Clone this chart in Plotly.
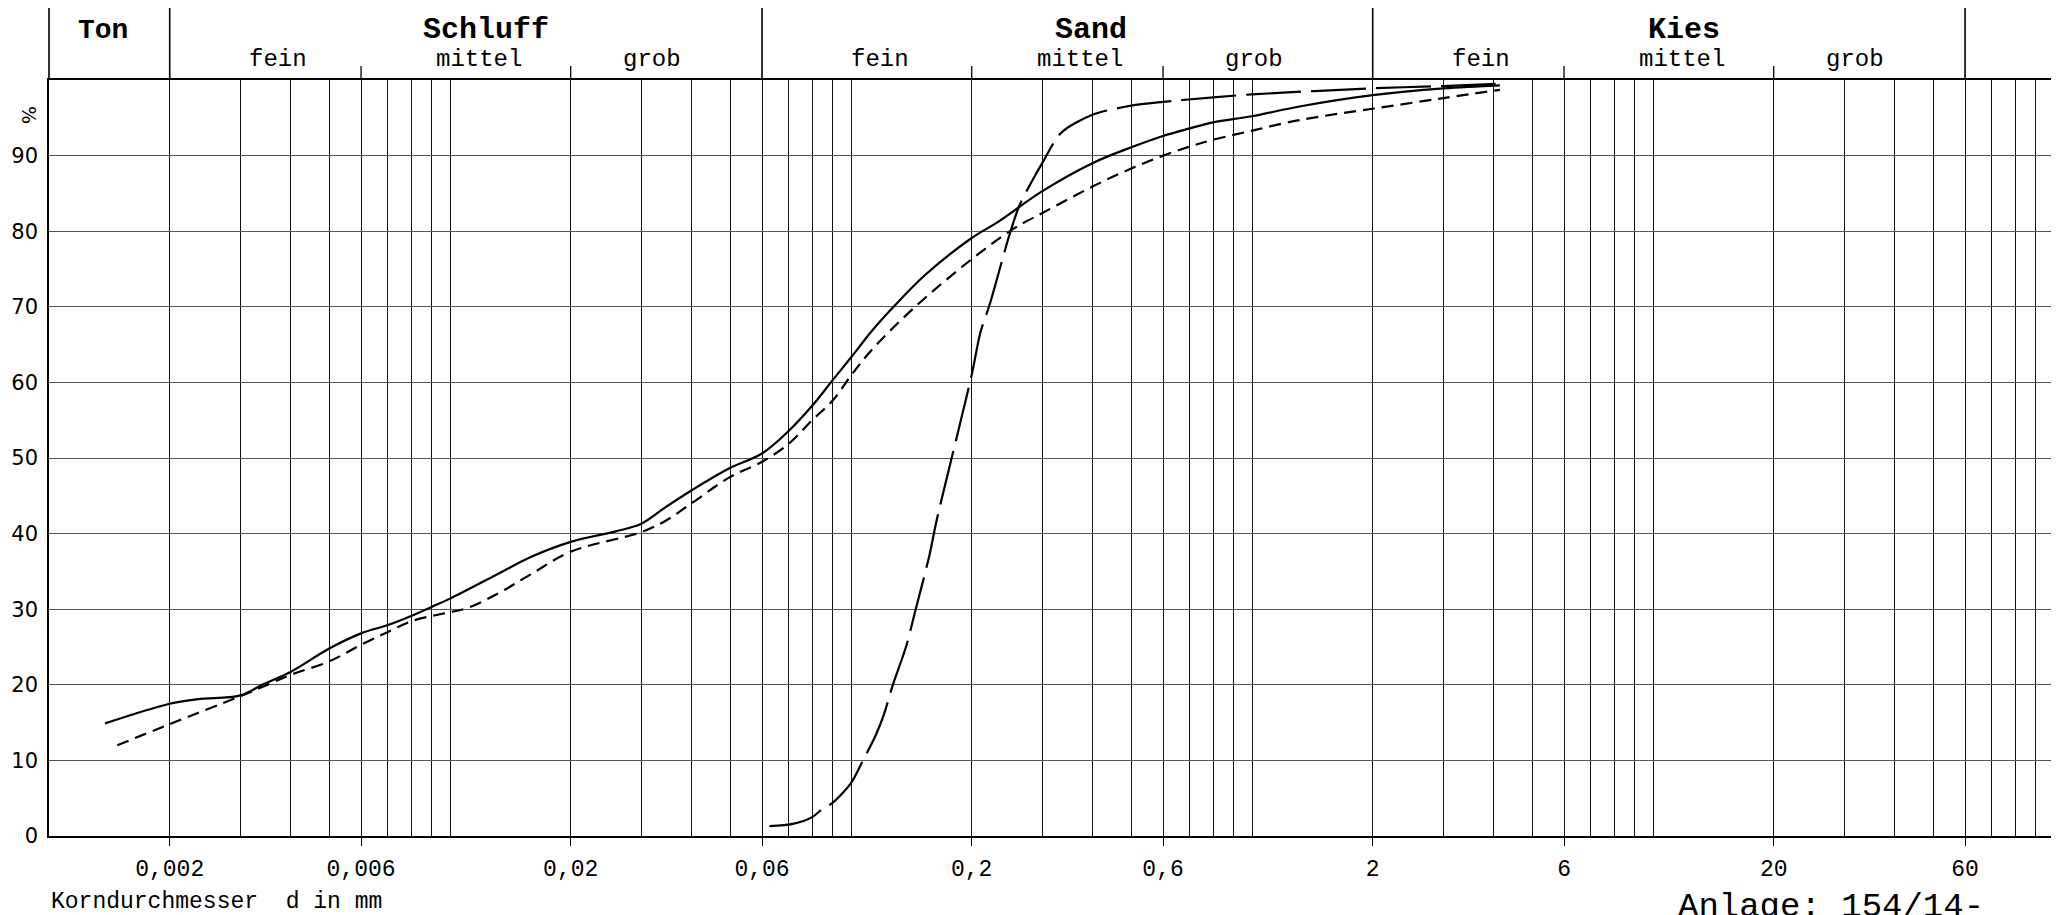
import math
import plotly.graph_objects as go

# ---------------- data ----------------
# grain diameter d in mm and passing percentage
d_solid = [0.00138, 0.002, 0.00235, 0.003, 0.0034, 0.004, 0.005, 0.006, 0.007, 0.008,
           0.009, 0.01, 0.0132, 0.0159, 0.02, 0.0259, 0.03, 0.0345, 0.04, 0.05,
           0.06, 0.07, 0.08, 0.09, 0.1, 0.1127, 0.1277, 0.153, 0.2, 0.2322,
           0.3, 0.4, 0.5, 0.6, 0.7, 0.8, 1.0, 1.313, 2.0, 3.0, 4.15]
p_solid = [14.9, 17.5, 18.1, 18.6, 20.0, 21.7, 24.8, 26.8, 27.9, 29.1,
           30.3, 31.4, 34.7, 36.9, 38.9, 40.3, 41.3, 43.5, 45.7, 48.7,
           50.6, 53.6, 56.9, 60.3, 63.3, 66.8, 70.0, 74.2, 79.1, 81.2,
           85.3, 89.0, 91.1, 92.6, 93.6, 94.4, 95.2, 96.5, 98.0, 98.9, 99.3]

d_dash = [0.00148, 0.002, 0.003, 0.0034, 0.004, 0.005, 0.006, 0.007, 0.008, 0.009,
          0.01, 0.0111, 0.0132, 0.0159, 0.02, 0.03, 0.0345, 0.04, 0.05, 0.06,
          0.07, 0.08, 0.09, 0.1, 0.1122, 0.1439, 0.2, 0.2557, 0.3, 0.4,
          0.5, 0.6, 0.7, 0.8, 1.0, 1.313, 2.0, 3.0, 4.15]
p_dash = [12.0, 14.8, 18.5, 19.7, 21.3, 23.1, 25.3, 27.0, 28.4, 29.1,
          29.6, 30.2, 32.1, 34.6, 37.6, 40.2, 41.7, 44.0, 47.5, 49.5,
          51.9, 55.0, 57.6, 60.9, 64.2, 69.9, 76.3, 80.4, 82.4, 85.9,
          88.3, 90.0, 91.2, 92.1, 93.3, 94.7, 96.2, 97.6, 98.7]

d_long = [0.0626, 0.0716, 0.08, 0.085, 0.09, 0.1, 0.1069, 0.1154, 0.121, 0.127,
          0.1371, 0.145, 0.1567, 0.1636, 0.2, 0.21, 0.2226, 0.248, 0.263, 0.2867,
          0.3006, 0.334, 0.4, 0.5, 0.6, 0.8, 1.0, 2.0, 3.0, 4.15]
p_long = [1.3, 1.6, 2.5, 3.6, 4.4, 7.0, 9.9, 13.4, 16.2, 19.9,
          25.0, 30.0, 37.0, 41.8, 61.0, 66.5, 70.6, 79.4, 83.4, 87.2,
          89.1, 93.0, 95.4, 96.6, 97.1, 97.7, 98.1, 98.9, 99.2, 99.5]

# axis labels
x_ticks = [0.002, 0.006, 0.02, 0.06, 0.2, 0.6, 2, 6, 20, 60]
x_ticktext = ["0,002", "0,006", "0,02", "0,06", "0,2", "0,6", "2", "6", "20", "60"]
y_ticks = [0, 10, 20, 30, 40, 50, 60, 70, 80, 90]

# soil classes (header)
main_bounds = [0.002, 0.06, 2, 60]
sub_bounds = [0.006, 0.02, 0.2, 0.6, 6, 20]
main_names = ["Ton", "Schluff", "Sand", "Kies"]
main_ranges = [(0.001, 0.002), (0.002, 0.06), (0.06, 2), (2, 60)]
sub_names = ["fein", "mittel", "grob"] * 3
sub_ranges = [(0.002, 0.006), (0.006, 0.02), (0.02, 0.06),
              (0.06, 0.2), (0.2, 0.6), (0.6, 2),
              (2, 6), (6, 20), (20, 60)]

# ---------------- geometry ----------------
# the page body has an 8px margin, so the figure is drawn 8px in from the corner
OFF = 8
W, H = 2059 - OFF, 915 - OFF
PX_L, PX_R, PX_T, PX_B = 47, 2056, 80, 836      # plot box in window pixels
ML, MR, MT = PX_L - OFF, (W + OFF) - PX_R, PX_T - OFF
MB = (H + OFF) - PX_B
XMIN, XMAX = -3, 2
PW = PX_R - PX_L
PH = PX_B - PX_T


def xp(d):
    return (math.log10(d) - XMIN) / (XMAX - XMIN)


def xpp(pix):
    return (pix - PX_L) / PW


def yp(pix):
    return (PX_B - pix) / PH


minor_vals = [k * 10 ** n for n in range(-3, 2) for k in range(1, 10)]
minor_vals = [v for v in minor_vals if 0.001 < v < 100 and
              all(abs(v - t) / t > 1e-6 for t in x_ticks)]

MONO = "Liberation Mono"

fig = go.Figure()
fig.add_trace(go.Scatter(x=d_long, y=p_long, mode="lines",
                         line=dict(color="black", width=2.2, dash="55px,10px",
                                   shape="spline", smoothing=0.8)))
fig.add_trace(go.Scatter(x=d_dash, y=p_dash, mode="lines",
                         line=dict(color="black", width=2.2, dash="12px,7px",
                                   shape="spline", smoothing=1.0)))
fig.add_trace(go.Scatter(x=d_solid, y=p_solid, mode="lines",
                         line=dict(color="black", width=2.2,
                                   shape="spline", smoothing=1.0)))

shapes = []
top = yp(5)
# header frame
shapes.append(dict(type="line", xref="paper", yref="paper", x0=0, x1=1, y0=top, y1=top,
                   line=dict(color="black", width=1.6)))
shapes.append(dict(type="line", xref="paper", yref="paper", x0=0, x1=0, y0=1, y1=top,
                   line=dict(color="black", width=1.6)))
shapes.append(dict(type="line", xref="paper", yref="paper", x0=1, x1=1, y0=1, y1=top,
                   line=dict(color="black", width=1.6)))
for b in main_bounds:
    shapes.append(dict(type="line", xref="paper", yref="paper", x0=xp(b), x1=xp(b),
                       y0=1, y1=top, line=dict(color="black", width=1.6)))
for b in sub_bounds:
    shapes.append(dict(type="line", xref="paper", yref="paper", x0=xp(b), x1=xp(b),
                       y0=1, y1=yp(66), line=dict(color="black", width=1.3)))

annotations = []
main_shift = [-6, 20, 24, 15]
main_size = [28, 30, 30, 30]
for name, (a, b), s, fs in zip(main_names, main_ranges, main_shift, main_size):
    annotations.append(dict(text="<b>%s</b>" % name, xref="paper", yref="paper",
                            x=xp(math.sqrt(a * b)), y=yp(30), xshift=s,
                            showarrow=False, xanchor="center", yanchor="middle",
                            font=dict(family=MONO, size=fs, color="black")))
sub_shift = [13, 13, -14] * 3
for name, (a, b), s in zip(sub_names, sub_ranges, sub_shift):
    annotations.append(dict(text=name, xref="paper", yref="paper",
                            x=xp(math.sqrt(a * b)), y=yp(59), xshift=s,
                            showarrow=False, xanchor="center", yanchor="middle",
                            font=dict(family=MONO, size=24, color="black")))
annotations.append(dict(text="%", xref="paper", yref="paper", x=xpp(27), y=yp(115),
                        xanchor="center", yanchor="middle", showarrow=False, textangle=90,
                        font=dict(family="DejaVu Sans", size=19, color="black")))
annotations.append(dict(text="Korndurchmesser  d in mm", xref="paper", yref="paper",
                        x=0, y=yp(902), xanchor="left", yanchor="middle", showarrow=False,
                        font=dict(family=MONO, size=23, color="black")))
annotations.append(dict(text="Anlage: 154/14-", xref="paper", yref="paper",
                        x=xpp(1677), y=yp(886), xanchor="left", yanchor="top",
                        showarrow=False,
                        font=dict(family=MONO, size=34, color="black")))

fig.update_layout(
    width=W, height=H,
    margin=dict(l=ML, r=MR, t=MT, b=MB, pad=0),
    paper_bgcolor="white", plot_bgcolor="white",
    showlegend=False,
    shapes=shapes, annotations=annotations,
    xaxis=dict(type="log", range=[XMIN, XMAX],
               tickmode="array", tickvals=x_ticks, ticktext=x_ticktext,
               ticks="outside", ticklen=8, tickwidth=1.4, tickcolor="black",
               ticklabelstandoff=3,
               showgrid=True, gridcolor="#111111", gridwidth=1.4,
               minor=dict(tickmode="array", tickvals=minor_vals, ticks="",
                          showgrid=True, gridcolor="#111111", gridwidth=1.4),
               showline=True, linecolor="black", linewidth=1.6, mirror=True,
               zeroline=False,
               tickfont=dict(family=MONO, size=23, color="black")),
    yaxis=dict(range=[0, 100], tickmode="array", tickvals=y_ticks,
               ticks="", showgrid=True, gridcolor="#555555", gridwidth=1.1,
               showline=True, linecolor="black", linewidth=1.6, mirror=True,
               zeroline=False, ticklabelstandoff=5,
               tickfont=dict(family="DejaVu Sans", size=21, color="black")),
)

fig.write_html("out.html")
